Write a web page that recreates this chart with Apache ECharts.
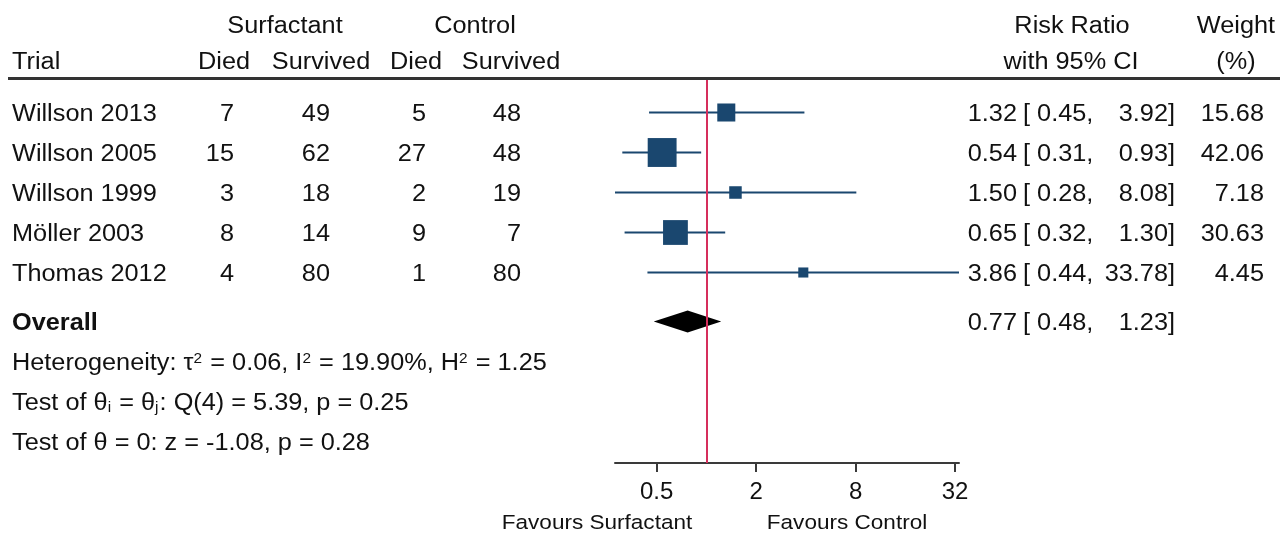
<!DOCTYPE html>
<html><head><meta charset="utf-8">
<script src="https://cdn.jsdelivr.net/npm/echarts@6/dist/echarts.min.js"></script>
<style>html,body{margin:0;padding:0;background:#fff}#c{width:1280px;height:533px}</style>
</head><body><div id="c"></div>
<script>
// ---- data ----
const trials   = ['Willson 2013','Willson 2005','Willson 1999','Möller 2003','Thomas 2012'];
const surfDied = [7, 15, 3, 8, 4];
const surfSurv = [49, 62, 18, 14, 80];
const ctrlDied = [5, 27, 2, 9, 1];
const ctrlSurv = [48, 48, 19, 7, 80];
const rr       = [1.32, 0.54, 1.50, 0.65, 3.86];
const ciLow    = [0.45, 0.31, 0.28, 0.32, 0.44];
const ciHigh   = [3.92, 0.93, 8.08, 1.30, 33.78];
const weights  = [15.68, 42.06, 7.18, 30.63, 4.45];
const overallRR = [0.77, 0.48, 1.23];
const xTicks   = [0.5, 2, 8, 32];
const xRange   = [0.28, 33.78];
const statLines = [
  'Heterogeneity: τ{sup|2} = 0.06, I{sup|2} = 19.90%, H{sup|2} = 1.25',
  'Test of θ{sub|i} = θ{sub|j}: Q(4) = 5.39, p = 0.25',
  'Test of θ = 0: z = -1.08, p = 0.28'
];

// ---- layout (row index positions) ----
const studyRows = [1, 2, 3, 4, 5];
const overallRow = 6.225;
const statRows = [7.225, 8.225, 9.225];
const headRow1 = -1.2125, headRow2 = -0.3125, favRow = 11.2;
const NAVY = '#1a476f';
const FONT = 'Liberation Sans, Arial, sans-serif';
const FS = 23, SX = 1.10, DY = 2.5;

const chart = echarts.init(document.getElementById('c'));
const fmt2 = v => v.toFixed(2);

chart.setOption({
  animation: false,
  grid: { left: 615, right: 321, top: 80, bottom: 70 },
  xAxis: {
    type: 'log', logBase: 2, min: xRange[0], max: xRange[1],
    axisLine: { show: true, lineStyle: { color: '#3a3a3a', width: 2 } },
    axisTick: { show: true, customValues: xTicks, length: 9, lineStyle: { color: '#3a3a3a', width: 2 } },
    axisLabel: { customValues: xTicks, color: '#111', fontSize: 24, fontFamily: FONT, margin: 17,
                 formatter: v => String(+v.toFixed(2)) },
    splitLine: { show: false }, minorTick: { show: false }
  },
  yAxis: { type: 'value', inverse: true, min: 0.1875, max: 9.7625, show: false },
  series: [
    {
      type: 'custom',
      data: trials.map((t, i) => [rr[i], studyRows[i], ciLow[i], ciHigh[i], weights[i]]),
      encode: { x: [0, 2, 3], y: 1 },
      renderItem: (params, api) => {
        const y = api.value(1);
        const p = api.coord([api.value(0), y]);
        const lo = api.coord([api.value(2), y]);
        const hi = api.coord([api.value(3), y]);
        const s = 4.3 * Math.sqrt(api.value(4)) + 1;
        return { type: 'group', children: [
          { type: 'line', shape: { x1: lo[0], y1: lo[1], x2: hi[0], y2: hi[1] }, style: { stroke: NAVY, lineWidth: 2 } },
          { type: 'rect', shape: { x: p[0] - s / 2, y: p[1] - s / 2, width: s, height: s }, style: { fill: NAVY } }
        ]};
      }
    },
    {
      type: 'custom',
      data: [[overallRR[0], overallRow, overallRR[1], overallRR[2]]],
      encode: { x: [0, 2, 3], y: 1 },
      renderItem: (params, api) => {
        const y = api.value(1);
        const p = api.coord([api.value(0), y]);
        const lo = api.coord([api.value(2), y]);
        const hi = api.coord([api.value(3), y]);
        const h = 11;
        return { type: 'polygon', shape: { points: [[lo[0], p[1]], [p[0], p[1] - h], [hi[0], p[1]], [p[0], p[1] + h]] },
                 style: { fill: '#000' } };
      },
      markLine: {
        silent: true, symbol: ['none', 'none'], label: { show: false },
        lineStyle: { color: '#d62e5c', width: 2, type: 'solid' },
        data: [{ xAxis: 1 }]
      }
    }
  ]
});

const rowY = r => chart.convertToPixel({ yAxisIndex: 0 }, r);
function txt(str, x, r, align, extra, sx) {
  return {
    type: 'text', x: x, y: rowY(r) + DY, scaleX: sx || SX, silent: true,
    style: Object.assign({ text: str, x: 0, y: 0, align: align, verticalAlign: 'middle',
      fill: '#111', fontSize: FS, fontFamily: FONT }, extra || {})
  };
}
const g = [];
// header
g.push(txt('Surfactant', 285, headRow1, 'center'));
g.push(txt('Control', 475, headRow1, 'center'));
g.push(txt('Risk Ratio', 1072, headRow1, 'center'));
g.push(txt('Weight', 1236, headRow1, 'center'));
g.push(txt('Trial', 12, headRow2, 'left'));
g.push(txt('Died', 224, headRow2, 'center'));
g.push(txt('Survived', 321, headRow2, 'center'));
g.push(txt('Died', 416, headRow2, 'center'));
g.push(txt('Survived', 511, headRow2, 'center'));
g.push(txt('with 95% CI', 1071, headRow2, 'center'));
g.push(txt('(%)', 1236, headRow2, 'center'));
// rule
g.push({ type: 'line', silent: true, shape: { x1: 8, y1: 78.5, x2: 1280, y2: 78.5 }, style: { stroke: '#333', lineWidth: 3 } });
// study rows
trials.forEach((t, i) => {
  const r = studyRows[i];
  g.push(txt(t, 12, r, 'left'));
  g.push(txt(String(surfDied[i]), 234, r, 'right'));
  g.push(txt(String(surfSurv[i]), 330, r, 'right'));
  g.push(txt(String(ctrlDied[i]), 426, r, 'right'));
  g.push(txt(String(ctrlSurv[i]), 521, r, 'right'));
  g.push(txt(fmt2(rr[i]), 1017, r, 'right'));
  g.push(txt('[ ' + fmt2(ciLow[i]) + ',', 1023, r, 'left'));
  g.push(txt(fmt2(ciHigh[i]) + ']', 1175, r, 'right'));
  g.push(txt(fmt2(weights[i]), 1264, r, 'right'));
});
// overall
g.push(txt('Overall', 12, overallRow, 'left', { fontWeight: 'bold' }));
g.push(txt(fmt2(overallRR[0]), 1017, overallRow, 'right'));
g.push(txt('[ ' + fmt2(overallRR[1]) + ',', 1023, overallRow, 'left'));
g.push(txt(fmt2(overallRR[2]) + ']', 1175, overallRow, 'right'));
// stats
const rich = {
  sup: { fontSize: 14, verticalAlign: 'top', fill: '#111', fontFamily: FONT, padding: [0, 1, 0, 0] },
  sub: { fontSize: 14, verticalAlign: 'bottom', fill: '#111', fontFamily: FONT, padding: [0, 1, 0, 0] }
};
statLines.forEach((s, i) => g.push(txt(s, 12, statRows[i], 'left', { rich: rich })));
// favours
g.push(txt('Favours Surfactant', 597, favRow, 'center', { fontSize: 20.5 }));
g.push(txt('Favours Control', 847, favRow, 'center', { fontSize: 20.5 }));

chart.setOption({ graphic: { elements: g } });
</script></body></html>
